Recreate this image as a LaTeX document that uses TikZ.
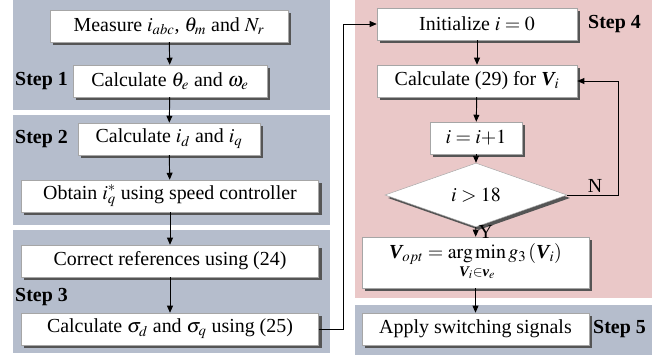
\documentclass[tikz,border=0pt]{standalone}
\usepackage{amsmath}
\usepackage{mathptmx}
\usepackage{fontspec}
\setmainfont{Liberation Serif}
\usetikzlibrary{arrows.meta,shadows,shapes.geometric}

\definecolor{panelblue}{RGB}{181,189,204}
\definecolor{panelred}{RGB}{234,200,200}
\definecolor{shadowgray}{RGB}{85,85,85}

\newcommand{\bV}{\text{\bfseries\itshape V}}
\newcommand{\bv}{\text{\bfseries\itshape v}}

\tikzset{
    block/.style={draw=gray!70, fill=white, minimum height=0.96cm, inner sep=1pt,
        font=\fontsize{17}{20}\selectfont,
        general shadow={fill=shadowgray, shadow xshift=0.09cm, shadow yshift=-0.09cm}},
    decide/.style={block, diamond, minimum width=5.46cm, minimum height=1.02cm, inner sep=0pt},
    steplabel/.style={font=\fontsize{17}{20}\selectfont\bfseries, anchor=west, inner sep=0pt},
    flow/.style={-{Triangle[length=6pt,width=5pt]}, line width=0.8pt}
}

\begin{document}
\begin{tikzpicture}[x=0.03cm, y=-0.03cm]

        % 1. background panels for the five steps
        \useasboundingbox (0,0) rectangle (671,360);
        \foreach \ya/\yb in {0/110, 115/225, 230/353} {
            \fill[panelblue] (13,\ya) rectangle (330,\yb);
        }
        \fill[panelred]  (355,0)   rectangle (652,298);
        \fill[panelblue] (355,305) rectangle (652,355);

        % 2. left column: steps 1 to 3
        \node[block, minimum width=7.14cm] (meas)  at (169,26)  {Measure $i_{abc}$, $\theta_m$ and $N_r$};
        \node[block, minimum width=5.82cm] (theta) at (170,81)  {Calculate $\theta_e$ and $\omega_e$};
        \node[block, minimum width=5.46cm] (idq)   at (169,139) {Calculate $i_d$ and $i_q$};
        \node[block, minimum width=8.91cm] (obt)   at (170,196) {Obtain $i_q^{*}$ using speed controller};
        \node[block, minimum width=8.91cm] (corr)  at (170,261) {Correct references using (24)};
        \node[block, minimum width=8.91cm] (sig)   at (170,329) {Calculate $\sigma_d$ and $\sigma_q$ using (25)};

        \node[steplabel] at (15,81)  {Step 1};
        \node[steplabel] at (15,139) {Step 2};
        \node[steplabel] at (15,297) {Step 3};

        % 3. right column: steps 4 and 5
        \node[block, minimum width=6cm]    (init)  at (477,24)  {Initialize $i = 0$};
        \node[block, minimum width=6cm]    (calc)  at (477,81)  {Calculate (29) for $\bV_{i}$};
        \node[block, minimum width=2.76cm] (inc)   at (476,138) {$i = i{+}1$};
        \node[decide]                      (dia)   at (476,195) {$i > 18$};
        \node[block, minimum width=6.81cm, minimum height=1.53cm] (vopt) at (475.5,262.5)
            {$\bV_{opt} = \mathop{\arg\min}\limits_{\bV_{i}\in \bv_{e}} g_3\left(\bV_{i}\right)$};
        \node[block, minimum width=6.81cm] (apply) at (475.5,329) {Apply switching signals};

        \node[steplabel] at (588,24)  {Step 4};
        \node[steplabel] at (593,329) {Step 5};

        % 4. connectors
        \foreach \a/\b in {meas/theta, theta/idq, idq/obt, obt/corr, corr/sig,
                           init/calc, calc/inc, inc/dia, vopt/apply} {
            \draw[flow] (\a) -- (\b);
        }
        \draw[flow] (dia) -- node[right, font=\fontsize{17}{20}\selectfont, inner sep=2pt] {Y} (vopt);

        \coordinate (jumpB) at (343,329);
        \coordinate (jumpT) at (343,24);
        \draw[flow] (sig.east) -- (jumpB) -- (jumpT) -- (init.west);

        \coordinate (loopB) at (618,195);
        \coordinate (loopT) at (618,81);
        \draw[flow] (dia.east) -- node[above, pos=0.55, font=\fontsize{17}{20}\selectfont, inner sep=2pt] {N} (loopB) -- (loopT) -- (calc.east);

    \end{tikzpicture}
\end{document}
